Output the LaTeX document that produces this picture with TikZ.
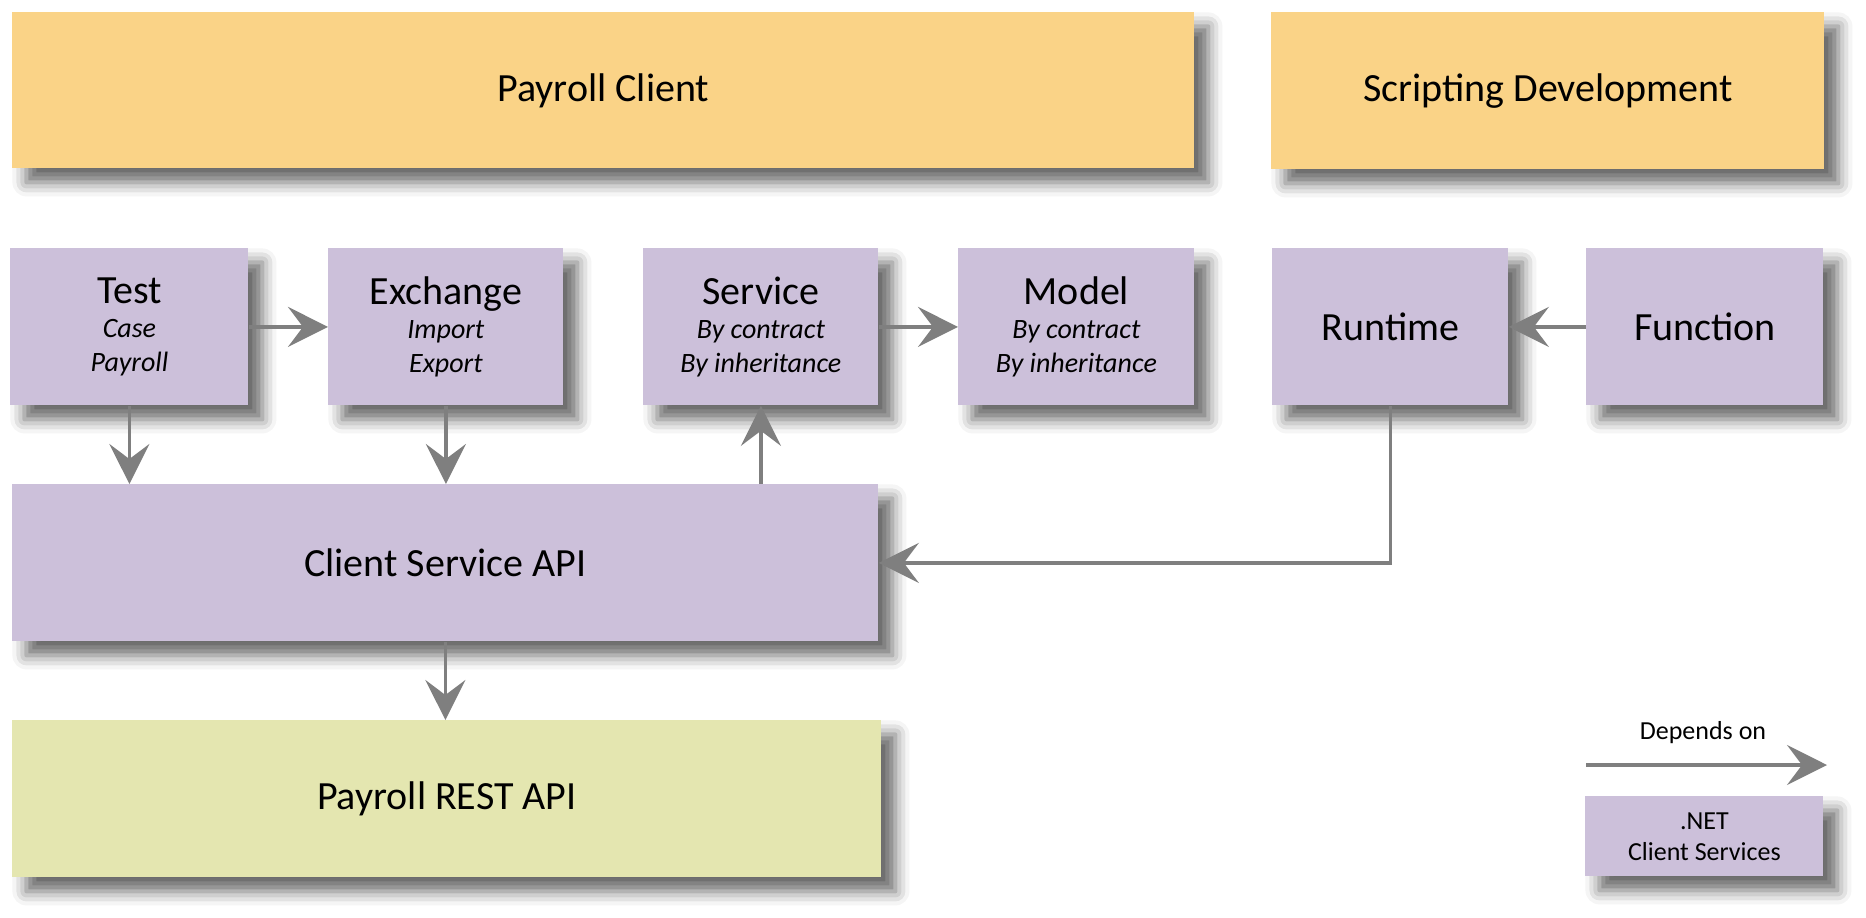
\documentclass[tikz,border=0pt]{standalone}
\usepackage{fontspec}
\setmainfont{Carlito}
\usetikzlibrary{arrows.meta,shadows.blur}
\definecolor{orangebox}{RGB}{250,211,135}
\definecolor{purplebox}{RGB}{204,192,218}
\definecolor{greenbox}{RGB}{228,230,176}
\definecolor{arrowgray}{RGB}{127,127,127}
\begin{document}
\begin{tikzpicture}[x=0.5pt,y=-0.5pt,
  box/.style={anchor=north west, inner sep=0pt, align=center, text=black,
    blur shadow={shadow xshift=7pt, shadow yshift=-7pt, shadow blur radius=7pt, shadow opacity=60},
    font=\fontsize{14}{17}\selectfont},
  sz/.style 2 args={minimum width=#1*0.5pt, minimum height=#2*0.5pt},
  orangefill/.style={box, fill=orangebox},
  purplefill/.style={box, fill=purplebox},
  greenfill/.style={box, fill=greenbox},
  big/.style={font=\fontsize{20}{24}\selectfont},
  small/.style={font=\fontsize{13}{15.5}\selectfont},
  dep/.style={draw=arrowgray, line width=1.75pt, -{Stealth[length=20pt,width=20pt,inset=7.5pt]}}
]
\useasboundingbox (0,0) rectangle (1866,917);

\node[orangefill, sz={1182}{156}, big] (pc) at (12,12) {Payroll Client};
\node[orangefill, sz={553}{157}, big] (sd) at (1271,12) {Scripting Development};

\node[purplefill, sz={238}{157}] (test) at (10,248)
  {{\fontsize{20}{24}\selectfont Test}\\[0pt]\textit{Case}\\\textit{Payroll}};
\node[purplefill, sz={235}{157}] (exch) at (328,248)
  {{\fontsize{20}{24}\selectfont Exchange}\\[0pt]\textit{Import}\\\textit{Export}};
\node[purplefill, sz={235}{157}] (serv) at (643,248)
  {{\fontsize{20}{24}\selectfont Service}\\[0pt]\textit{By contract}\\\textit{By inheritance}};
\node[purplefill, sz={236}{157}] (model) at (958,248)
  {{\fontsize{20}{24}\selectfont Model}\\[0pt]\textit{By contract}\\\textit{By inheritance}};
\node[purplefill, sz={236}{157}, big] (runtime) at (1272,248) {Runtime};
\node[purplefill, sz={237}{157}, big] (func) at (1586,248) {Function};

\node[purplefill, sz={866}{157}, big] (csa) at (12,484) {Client Service API};
\node[greenfill, sz={869}{157}, big] (pra) at (12,720) {Payroll REST API};

\node[purplefill, sz={238}{80}, small] (legend) at (1585,796) {.NET\\Client Services};
\node[small, inner sep=0pt] (legtext) at (1703,733) {Depends on};
\coordinate (la) at (1586,765);
\coordinate (lb) at (1827,765);

\draw[dep] (test) -- (exch);
\draw[dep] (serv) -- (model);
\draw[dep] (func) -- (runtime);
\draw[dep] (test.south) -- (test.south |- csa.north);
\draw[dep] (exch.south) -- (exch.south |- csa.north);
\draw[dep] (csa.north -| serv.south) -- (serv.south);
\draw[dep] (runtime.south) |- (csa.east);
\draw[dep] (csa.south) -- (csa.south |- pra.north);
\draw[dep] (la) -- (lb);
\end{tikzpicture}
\end{document}
